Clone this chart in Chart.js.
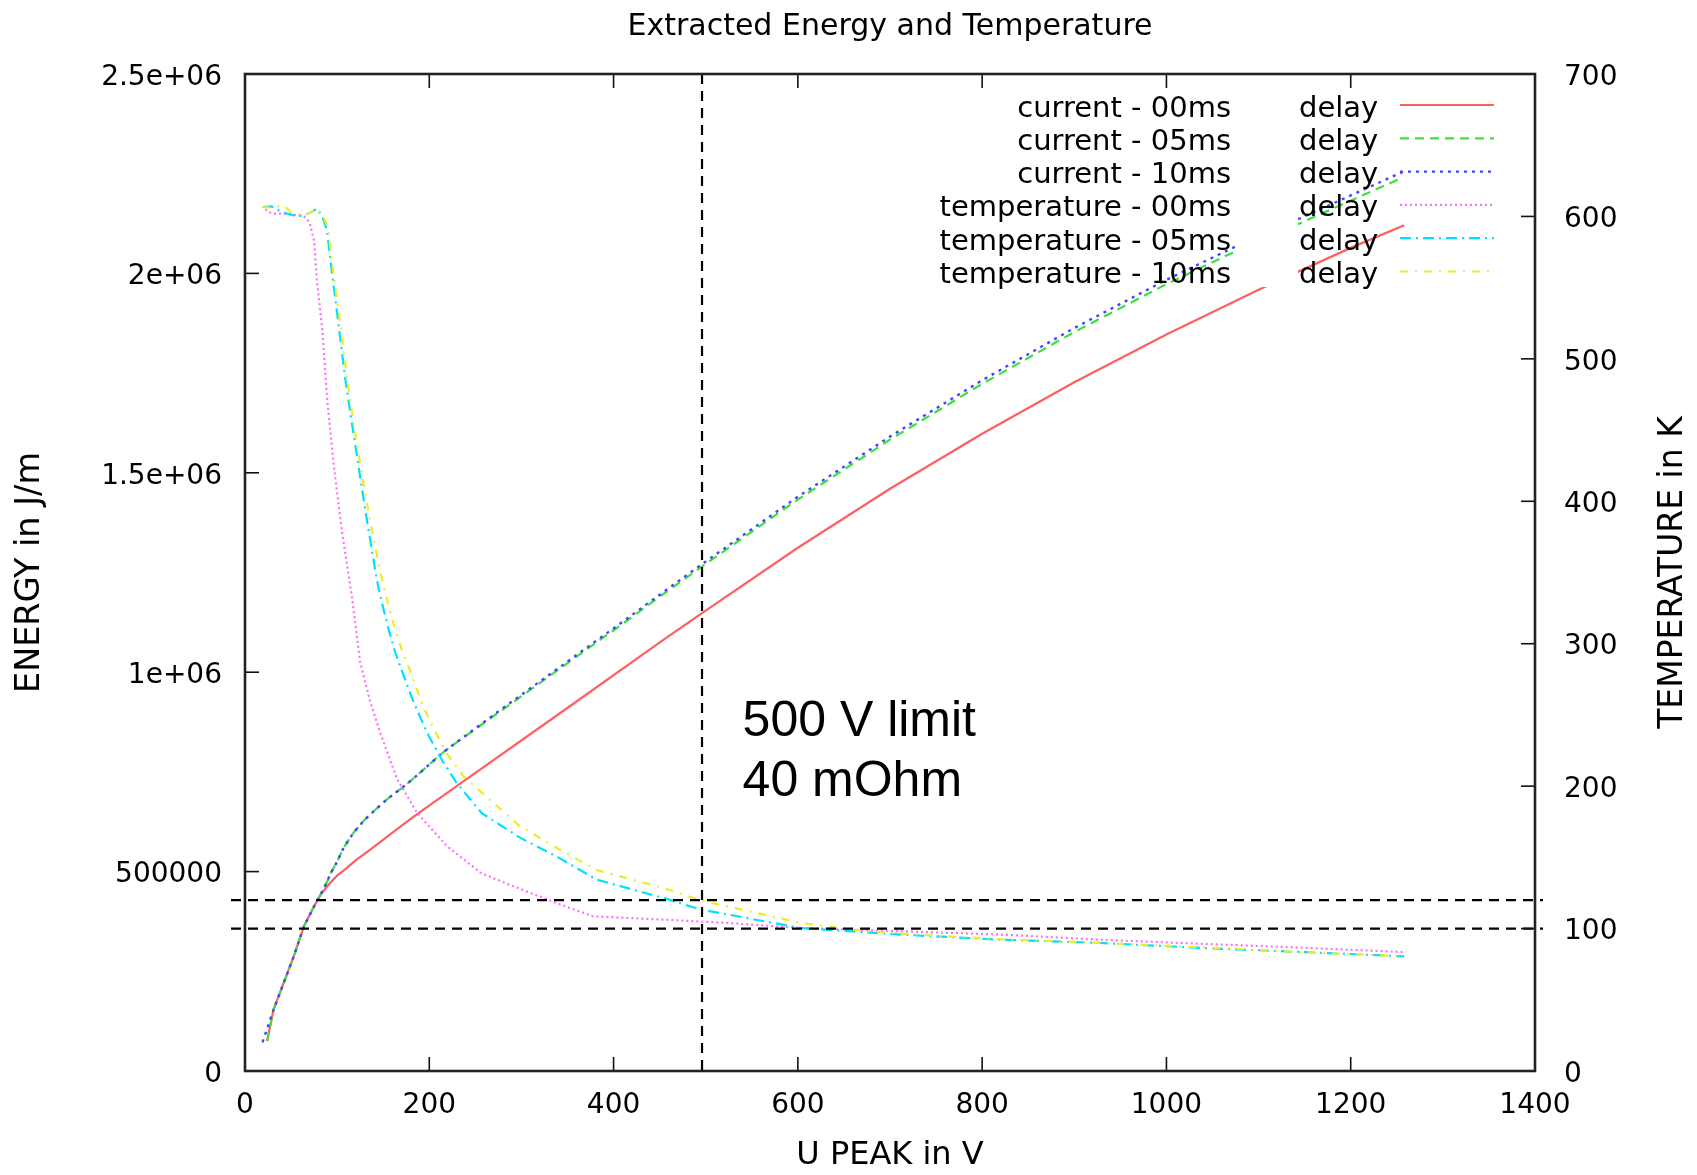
<!DOCTYPE html>
<html><head><meta charset="utf-8">
<script src="https://cdn.jsdelivr.net/npm/chart.js@4.4.0/dist/chart.umd.min.js"></script>
<style>html,body{margin:0;padding:0;background:#fff;}#wrap{width:1697px;height:1175px;}</style>
</head><body><div id="wrap"><canvas id="c" width="1697" height="1175"></canvas></div>
<script>
// ---------- data ----------
const chartTitle = 'Extracted Energy and Temperature';
const xTickLabels = ['0','200','400','600','800','1000','1200','1400'];
const energyTickLabels = ['0','500000','1e+06','1.5e+06','2e+06','2.5e+06'];
const tempTickLabels = ['0','100','200','300','400','500','600','700'];

const legendLabels = ['current - 00ms','current - 05ms','current - 10ms','temperature - 00ms','temperature - 05ms','temperature - 10ms'];
const legendSuffix = 'delay';

const curr00V = [24, 31, 42, 53, 64, 75, 82, 90, 100, 110, 120, 136, 160, 183, 237, 346, 454, 496, 600, 700, 800, 900, 1000, 1100, 1200, 1258];
const curr00E = [75000, 154000, 221000, 288000, 363000, 413000, 442000, 465000, 490000, 508000, 528000, 555000, 598000, 638000, 726000, 904000, 1081000, 1148000, 1312000, 1460000, 1598000, 1727000, 1847000, 1959000, 2064000, 2121000];

const curr05V = [24, 31, 42, 53, 64, 75, 82, 89, 93, 100, 107, 118, 129, 140, 155, 172, 181, 216, 274, 346, 418, 445, 496, 600, 700, 800, 900, 1000, 1080, 1145, 1257];
const curr05E = [75000, 154000, 221000, 288000, 363000, 413000, 442000, 474000, 496000, 525000, 560000, 598000, 628000, 652000, 683000, 713000, 730000, 801000, 897000, 1016000, 1135000, 1181000, 1265000, 1433000, 1583000, 1723000, 1853000, 1973000, 2061000, 2126000, 2241000];

const curr10V = [19, 31, 42, 53, 64, 75, 82, 89, 93, 100, 107, 118, 129, 140, 155, 172, 181, 216, 274, 346, 418, 445, 496, 600, 700, 800, 900, 1000, 1080, 1145, 1256];
const curr10E = [72000, 154000, 221000, 288000, 363000, 413000, 442000, 474000, 496000, 525000, 560000, 598000, 628000, 652000, 683000, 713000, 730000, 801000, 900000, 1020000, 1140000, 1186000, 1271000, 1440000, 1591000, 1732000, 1863000, 1984000, 2073000, 2138000, 2254000];

const temp00V = [22, 29, 40, 55, 64, 70, 75, 78, 84, 89, 96, 105, 116, 125, 136, 147, 165, 187, 219, 256, 290, 324, 350, 378, 454, 523, 603, 711, 820, 928, 1050, 1150, 1258];
const temp00T = [605, 602, 602, 601, 600, 596, 583, 555, 520, 473, 427, 380, 333, 287, 259, 237, 205, 181, 158, 139, 130, 121.5, 115, 108.6, 106.3, 104, 100.4, 98.1, 95.8, 92.2, 89, 86.5, 83.5];

const temp05V = [19, 29, 40, 53, 64, 72, 78, 84, 89, 94.5, 100, 109, 120, 131, 143, 147, 155, 163, 169, 183, 198, 214, 230, 257, 298, 340, 382, 454, 494, 523, 603, 711, 820, 928, 1050, 1150, 1258];
const temp05T = [606.6, 607, 603, 600.8, 600.5, 603, 605.5, 600, 590, 560, 532, 485, 438, 392, 345, 333, 312, 294, 283, 259, 237, 218, 202, 181, 164, 150, 134.3, 121.5, 113.5, 110, 100.4, 95.8, 92.2, 89.9, 86, 83.5, 80.5];

const temp10V = [19, 29, 42, 51, 64, 72, 78, 85, 90, 96, 102, 111, 122, 134, 147, 154, 163, 172, 180, 192, 205, 220, 237, 270, 298, 340, 382, 454, 494, 523, 603, 657, 711, 820, 928, 1050, 1150, 1258];
const temp10T = [606.6, 606, 607.8, 602, 600.8, 603, 605.5, 600, 592, 560, 532, 485, 438, 392, 350, 331, 310, 292, 280, 258, 240, 222, 207, 188, 172, 156, 141, 128.5, 120, 115.6, 104, 99.3, 96.5, 92.5, 90, 86.5, 83.5, 80.5];

const tempLimits = [100, 120];
const voltageLimit = 496;
const noteLines = ['500 V limit', '40 mOhm'];
const notePos = [[540, 839000], [540, 689000]];

// ---------- build ----------
const pts = (xs, ys) => xs.map((v, i) => ({x: v, y: ys[i]}));
const GP = '"DejaVu Sans", sans-serif';

const styles = [
  {color: 'rgb(255,95,95)',  dash: [],            w: 2.2},
  {color: 'rgb(60,225,60)',  dash: [9, 6],        w: 2.2},
  {color: 'rgb(70,70,255)',  dash: [3, 5],        w: 2.4},
  {color: 'rgb(255,110,255)',dash: [2, 3],        w: 2.2},
  {color: 'rgb(0,225,255)',  dash: [11, 5, 2, 5], w: 2.2},
  {color: 'rgb(240,235,40)', dash: [8, 7, 2, 7],  w: 2.2}
];
const series = [
  pts(curr00V, curr00E), pts(curr05V, curr05E), pts(curr10V, curr10E),
  pts(temp00V, temp00T), pts(temp05V, temp05T), pts(temp10V, temp10T)
];
const datasets = series.map((d, i) => ({
  label: legendLabels[i] + ' ' + legendSuffix,
  data: d,
  yAxisID: i < 3 ? 'yE' : 'yT',
  borderColor: styles[i].color,
  borderDash: styles[i].dash,
  borderWidth: styles[i].w,
  pointRadius: 0,
  fill: false,
  tension: 0,
  showLine: true,
  order: 6 - i
}));

const framePlugin = {
  id: 'gnuplotFrame',
  afterDatasetsDraw(chart) {
    const {ctx, chartArea: a, scales} = chart;
    const sx = scales.x, sE = scales.yE, sT = scales.yT;
    const line = (x1, y1, x2, y2) => { ctx.beginPath(); ctx.moveTo(x1, y1); ctx.lineTo(x2, y2); ctx.stroke(); };
    ctx.save();
    // white gap inside key
    ctx.fillStyle = '#fff';
    ctx.fillRect(1238, 90, 60, 197);
    // reference lines
    ctx.strokeStyle = '#000'; ctx.lineWidth = 2.2; ctx.setLineDash([10, 7]);
    tempLimits.forEach(t => { const py = sT.getPixelForValue(t); line(a.left - 14, py, a.right + 8, py); });
    const vx = sx.getPixelForValue(voltageLimit);
    line(vx, a.top, vx, a.bottom);
    ctx.setLineDash([]);
    // inward ticks
    ctx.strokeStyle = '#111'; ctx.lineWidth = 1.6;
    const L = 14;
    sx.ticks.forEach(t => { const p = sx.getPixelForValue(t.value); line(p, a.bottom, p, a.bottom - L); line(p, a.top, p, a.top + L); });
    sE.ticks.forEach(t => { const p = sE.getPixelForValue(t.value); line(a.left, p, a.left + L, p); });
    sT.ticks.forEach(t => { const p = sT.getPixelForValue(t.value); line(a.right, p, a.right - L, p); });
    // border
    ctx.strokeStyle = '#222'; ctx.lineWidth = 2.6;
    ctx.strokeRect(a.left, a.top, a.right - a.left, a.bottom - a.top);
    // key
    ctx.fillStyle = '#000';
    ctx.font = '29px ' + GP;
    ctx.textBaseline = 'middle';
    legendLabels.forEach((lab, i) => {
      const y = 105 + i * 33.3;
      ctx.textAlign = 'right'; ctx.fillText(lab, 1231, y + 4);
      ctx.textAlign = 'left'; ctx.fillText(legendSuffix, 1299, y + 4);
      ctx.strokeStyle = styles[i].color; ctx.lineWidth = styles[i].w; ctx.setLineDash(styles[i].dash);
      line(1400, y, 1494, y);
    });
    ctx.setLineDash([]);
    // annotation
    ctx.font = '50px "Liberation Sans", Arial, sans-serif';
    ctx.textAlign = 'left'; ctx.textBaseline = 'alphabetic'; ctx.fillStyle = '#000';
    noteLines.forEach((t, i) => ctx.fillText(t, sx.getPixelForValue(notePos[i][0]), sE.getPixelForValue(notePos[i][1])));
    // right axis title (reads upward)
    ctx.translate(1673, (a.top + a.bottom) / 2);
    ctx.rotate(-Math.PI / 2);
    ctx.font = '33px ' + GP; ctx.textAlign = 'center'; ctx.textBaseline = 'middle';
    ctx.fillText('TEMPERATURE in K', 0, 0);
    ctx.restore();
  }
};

const tickFont = {family: GP, size: 28};
new Chart(document.getElementById('c'), {
  type: 'line',
  data: {datasets},
  plugins: [framePlugin],
  options: {
    responsive: false,
    animation: false,
    layout: {padding: 0},
    plugins: {
      legend: {display: false},
      tooltip: {enabled: false},
      title: {display: true, fullSize: false, text: chartTitle, color: '#000',
        font: {family: GP, size: 30, weight: 'normal'}, padding: {top: 8.8, bottom: 29.2}}
    },
    scales: {
      x: {type: 'linear', position: 'bottom', min: 0, max: 1400,
        grid: {display: false, drawTicks: false}, border: {display: false},
        ticks: {stepSize: 200, autoSkip: false, maxRotation: 0, color: '#000', font: tickFont, padding: 17.7,
          callback: (v, i) => xTickLabels[i]},
        title: {display: true, text: 'U PEAK in V', color: '#000', font: {family: GP, size: 32}, padding: {top: 0, bottom: 0}},
        afterFit(s) { s.height = 104; }
      },
      yE: {type: 'linear', position: 'left', min: 0, max: 2500000,
        grid: {display: false, drawTicks: false}, border: {display: false},
        ticks: {stepSize: 500000, autoSkip: false, color: '#000', font: tickFont, padding: 23, labelOffset: 3.5,
          callback: (v, i) => energyTickLabels[i]},
        title: {display: true, text: 'ENERGY in J/m', color: '#000', font: {family: GP, size: 33.5}, padding: {top: 10, bottom: 0}},
        afterFit(s) { s.width = 245; }
      },
      yT: {type: 'linear', position: 'right', min: 0, max: 700,
        grid: {display: false, drawTicks: false}, border: {display: false},
        ticks: {stepSize: 100, autoSkip: false, color: '#000', font: tickFont, padding: 29, labelOffset: 3.5,
          callback: (v, i) => tempTickLabels[i]},
        title: {display: false},
        afterFit(s) { s.width = 162; }
      }
    }
  }
});
</script></body></html>
